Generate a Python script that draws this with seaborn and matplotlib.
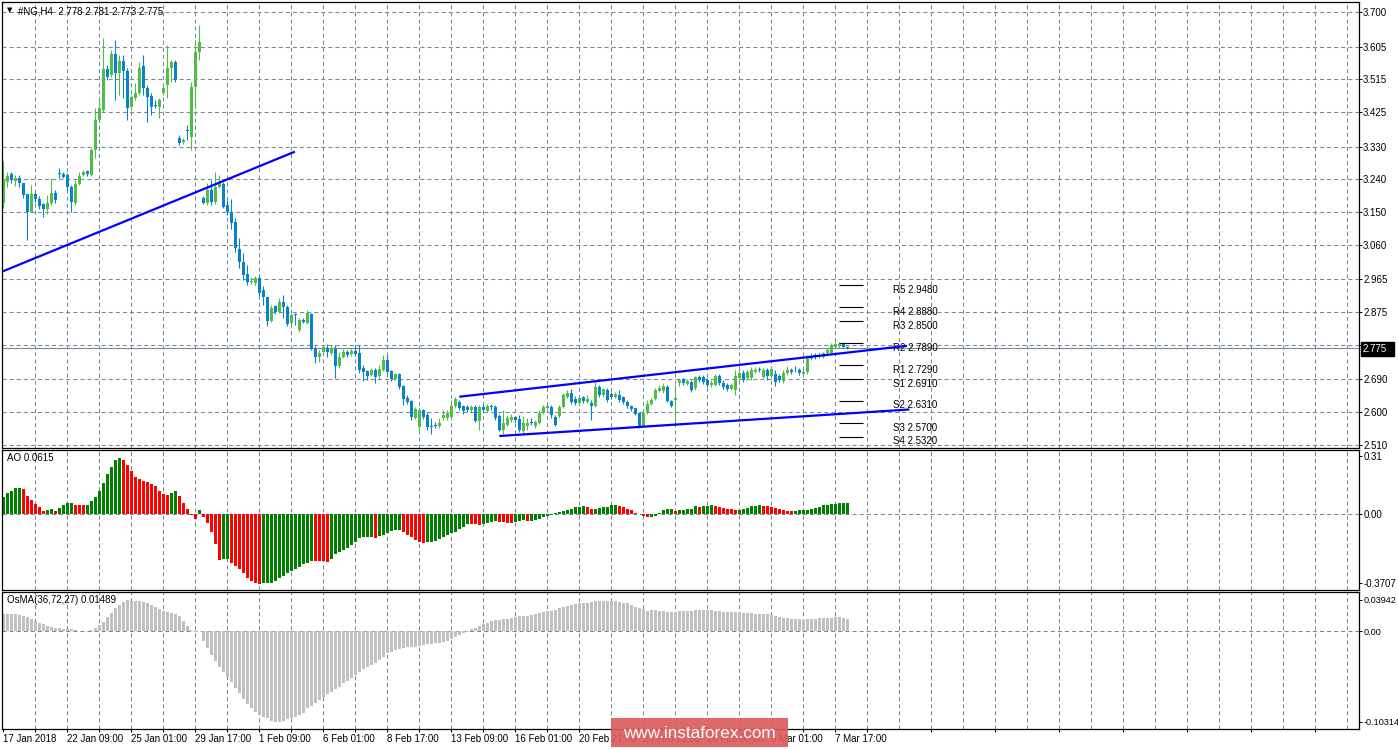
import numpy as np
import pandas as pd
import matplotlib
matplotlib.use("Agg")
import matplotlib.pyplot as plt
import seaborn as sns
from matplotlib.patches import Rectangle

sns.set_style("white")
plt.rcParams['font.family'] = ['Liberation Sans', 'DejaVu Sans']
plt.rcParams['lines.scale_dashes'] = False
plt.rcParams['text.color'] = 'black'
plt.rcParams['xtick.color'] = 'black'
plt.rcParams['ytick.color'] = 'black'

# --- #NG H4 candles ---
opens = [
    3.175, 3.233, 3.255, 3.235, 3.244, 3.230, 3.200, 3.150, 3.200, 3.186,
    3.172, 3.158, 3.175, 3.202, 3.256, 3.255, 3.252, 3.219, 3.175, 3.227,
    3.252, 3.263, 3.252, 3.321, 3.403, 3.431, 3.543, 3.527, 3.585, 3.532,
    3.565, 3.538, 3.439, 3.464, 3.477, 3.552, 3.491, 3.469, 3.443, 3.439,
    3.477, 3.499, 3.546, 3.563, 3.354, 3.343, 3.374, 3.356, 3.494, 3.590,
    3.189, 3.175, 3.211, 3.178, 3.219, 3.227, 3.169, 3.150, 3.123, 3.048,
    3.013, 2.980, 2.958, 2.955, 2.969, 2.936, 2.916, 2.850, 2.892, 2.875,
    2.903, 2.889, 2.845, 2.867, 2.826, 2.853, 2.845, 2.870, 2.773, 2.751,
    2.765, 2.776, 2.762, 2.773, 2.727, 2.751, 2.765, 2.760, 2.768, 2.762,
    2.721, 2.713, 2.702, 2.716, 2.699, 2.716, 2.743, 2.713, 2.691, 2.705,
    2.672, 2.639, 2.630, 2.584, 2.559, 2.606, 2.592, 2.562, 2.564, 2.562,
    2.583, 2.583, 2.586, 2.617, 2.628, 2.617, 2.614, 2.606, 2.614, 2.575,
    2.614, 2.603, 2.615, 2.614, 2.589, 2.551, 2.564, 2.578, 2.586, 2.581,
    2.548, 2.562, 2.573, 2.562, 2.570, 2.597, 2.611, 2.614, 2.586, 2.589,
    2.614, 2.641, 2.652, 2.636, 2.625, 2.641, 2.628, 2.625, 2.617, 2.669,
    2.647, 2.661, 2.650, 2.641, 2.647, 2.641, 2.628, 2.617, 2.611, 2.597,
    2.562, 2.597, 2.622, 2.636, 2.658, 2.658, 2.669, 2.630, 2.633, 2.680,
    2.691, 2.677, 2.683, 2.666, 2.696, 2.696, 2.688, 2.674, 2.674, 2.699,
    2.680, 2.674, 2.663, 2.661, 2.694, 2.707, 2.694, 2.694, 2.710, 2.717,
    2.696, 2.716, 2.699, 2.705, 2.699, 2.685, 2.707, 2.716, 2.719, 2.716,
    2.705, 2.710, 2.746, 2.755, 2.751, 2.751, 2.762, 2.762, 2.779, 2.781,
    2.790, 2.778]
closes = [
    3.238, 3.249, 3.238, 3.244, 3.230, 3.197, 3.150, 3.200, 3.186, 3.167,
    3.158, 3.175, 3.202, 3.183, 3.254, 3.246, 3.219, 3.178, 3.227, 3.249,
    3.260, 3.255, 3.321, 3.403, 3.436, 3.543, 3.521, 3.585, 3.532, 3.565,
    3.538, 3.436, 3.466, 3.477, 3.546, 3.491, 3.466, 3.439, 3.441, 3.458,
    3.491, 3.546, 3.563, 3.513, 3.340, 3.348, 3.372, 3.494, 3.590, 3.618,
    3.175, 3.211, 3.178, 3.219, 3.230, 3.164, 3.150, 3.120, 3.051, 3.013,
    2.977, 2.958, 2.960, 2.969, 2.927, 2.916, 2.850, 2.886, 2.875, 2.903,
    2.889, 2.842, 2.867, 2.866, 2.853, 2.848, 2.872, 2.773, 2.751, 2.762,
    2.779, 2.765, 2.773, 2.727, 2.751, 2.765, 2.757, 2.768, 2.760, 2.716,
    2.710, 2.699, 2.716, 2.696, 2.718, 2.743, 2.710, 2.691, 2.705, 2.669,
    2.636, 2.628, 2.586, 2.608, 2.606, 2.586, 2.559, 2.560, 2.562, 2.570,
    2.592, 2.597, 2.617, 2.636, 2.611, 2.603, 2.606, 2.614, 2.575, 2.614,
    2.606, 2.617, 2.613, 2.583, 2.551, 2.570, 2.583, 2.586, 2.578, 2.551,
    2.570, 2.570, 2.570, 2.573, 2.597, 2.614, 2.617, 2.592, 2.564, 2.614,
    2.647, 2.652, 2.628, 2.625, 2.639, 2.630, 2.636, 2.617, 2.669, 2.647,
    2.663, 2.633, 2.641, 2.650, 2.633, 2.628, 2.617, 2.608, 2.595, 2.562,
    2.597, 2.622, 2.633, 2.661, 2.666, 2.672, 2.630, 2.617, 2.639, 2.688,
    2.680, 2.685, 2.661, 2.696, 2.688, 2.683, 2.674, 2.680, 2.699, 2.680,
    2.669, 2.663, 2.674, 2.699, 2.707, 2.688, 2.710, 2.716, 2.716, 2.715,
    2.716, 2.699, 2.718, 2.683, 2.688, 2.707, 2.716, 2.710, 2.717, 2.707,
    2.710, 2.749, 2.754, 2.753, 2.757, 2.762, 2.771, 2.784, 2.787, 2.787,
    2.779, 2.775]
highs = [
    3.290, 3.260, 3.260, 3.252, 3.252, 3.230, 3.200, 3.224, 3.205, 3.194,
    3.175, 3.197, 3.244, 3.211, 3.271, 3.260, 3.257, 3.224, 3.238, 3.260,
    3.266, 3.266, 3.326, 3.436, 3.461, 3.629, 3.554, 3.596, 3.623, 3.582,
    3.582, 3.546, 3.472, 3.505, 3.563, 3.582, 3.499, 3.477, 3.458, 3.464,
    3.499, 3.609, 3.568, 3.568, 3.362, 3.354, 3.389, 3.508, 3.623, 3.664,
    3.194, 3.230, 3.238, 3.260, 3.252, 3.233, 3.183, 3.186, 3.134, 3.079,
    3.037, 3.004, 2.971, 2.974, 2.974, 2.947, 2.919, 2.894, 2.894, 2.914,
    2.922, 2.894, 2.872, 2.872, 2.859, 2.859, 2.881, 2.872, 2.782, 2.771,
    2.784, 2.787, 2.784, 2.784, 2.765, 2.773, 2.771, 2.776, 2.784, 2.784,
    2.729, 2.716, 2.721, 2.721, 2.729, 2.757, 2.757, 2.716, 2.707, 2.707,
    2.674, 2.647, 2.633, 2.614, 2.614, 2.608, 2.600, 2.583, 2.573, 2.583,
    2.606, 2.606, 2.633, 2.641, 2.633, 2.619, 2.619, 2.619, 2.619, 2.619,
    2.619, 2.622, 2.622, 2.619, 2.595, 2.606, 2.592, 2.595, 2.589, 2.592,
    2.589, 2.583, 2.583, 2.578, 2.606, 2.619, 2.619, 2.619, 2.592, 2.619,
    2.652, 2.661, 2.663, 2.644, 2.644, 2.644, 2.647, 2.633, 2.683, 2.674,
    2.666, 2.666, 2.655, 2.655, 2.661, 2.644, 2.633, 2.619, 2.611, 2.600,
    2.606, 2.633, 2.639, 2.666, 2.674, 2.680, 2.674, 2.633, 2.674, 2.694,
    2.694, 2.691, 2.688, 2.699, 2.702, 2.702, 2.694, 2.688, 2.705, 2.705,
    2.688, 2.680, 2.680, 2.716, 2.716, 2.716, 2.716, 2.724, 2.724, 2.724,
    2.721, 2.721, 2.727, 2.716, 2.705, 2.716, 2.727, 2.721, 2.727, 2.721,
    2.718, 2.757, 2.762, 2.762, 2.765, 2.765, 2.776, 2.790, 2.792, 2.792,
    2.792, 2.781]
lows = [
    3.161, 3.219, 3.230, 3.222, 3.219, 3.189, 3.073, 3.150, 3.178, 3.158,
    3.136, 3.145, 3.169, 3.175, 3.244, 3.244, 3.211, 3.150, 3.169, 3.224,
    3.249, 3.249, 3.249, 3.299, 3.398, 3.425, 3.513, 3.521, 3.458, 3.472,
    3.464, 3.403, 3.431, 3.458, 3.472, 3.472, 3.398, 3.417, 3.436, 3.409,
    3.472, 3.464, 3.508, 3.508, 3.334, 3.337, 3.348, 3.321, 3.436, 3.568,
    3.172, 3.169, 3.169, 3.172, 3.216, 3.161, 3.142, 3.103, 3.040, 2.996,
    2.963, 2.949, 2.952, 2.949, 2.919, 2.894, 2.837, 2.848, 2.870, 2.872,
    2.859, 2.837, 2.839, 2.839, 2.820, 2.845, 2.842, 2.771, 2.735, 2.738,
    2.762, 2.751, 2.757, 2.694, 2.721, 2.749, 2.751, 2.754, 2.754, 2.707,
    2.685, 2.688, 2.699, 2.680, 2.694, 2.713, 2.705, 2.685, 2.688, 2.663,
    2.619, 2.622, 2.578, 2.581, 2.545, 2.581, 2.551, 2.540, 2.556, 2.556,
    2.578, 2.578, 2.583, 2.611, 2.606, 2.595, 2.600, 2.600, 2.573, 2.551,
    2.600, 2.600, 2.606, 2.578, 2.548, 2.540, 2.562, 2.573, 2.573, 2.545,
    2.542, 2.551, 2.564, 2.556, 2.567, 2.595, 2.608, 2.583, 2.562, 2.583,
    2.611, 2.639, 2.622, 2.619, 2.619, 2.625, 2.625, 2.578, 2.614, 2.641,
    2.641, 2.628, 2.636, 2.639, 2.628, 2.622, 2.611, 2.603, 2.592, 2.556,
    2.559, 2.595, 2.619, 2.633, 2.655, 2.652, 2.628, 2.614, 2.567, 2.672,
    2.674, 2.674, 2.655, 2.661, 2.683, 2.677, 2.669, 2.669, 2.672, 2.674,
    2.663, 2.658, 2.661, 2.647, 2.688, 2.683, 2.688, 2.688, 2.707, 2.710,
    2.694, 2.688, 2.694, 2.672, 2.683, 2.680, 2.702, 2.705, 2.710, 2.702,
    2.702, 2.705, 2.743, 2.746, 2.749, 2.749, 2.760, 2.760, 2.776, 2.776,
    2.776, 2.773]

# --- Awesome Oscillator ---
ao_vals = [
    0.093, 0.111, 0.125, 0.138, 0.140, 0.132, 0.098, 0.075, 0.054, 0.036,
    0.018, 0.021, 0.027, 0.018, 0.030, 0.048, 0.057, 0.061, 0.048, 0.047,
    0.046, 0.050, 0.072, 0.093, 0.125, 0.165, 0.213, 0.254, 0.290, 0.301,
    0.290, 0.263, 0.233, 0.200, 0.186, 0.179, 0.170, 0.159, 0.150, 0.125,
    0.106, 0.104, 0.115, 0.124, 0.098, 0.061, 0.027, -0.005, -0.027, 0.021,
    -0.014, -0.050, -0.095, -0.163, -0.247, -0.243, -0.242, -0.265, -0.277, -0.295,
    -0.319, -0.342, -0.360, -0.372, -0.374, -0.372, -0.371, -0.369, -0.360, -0.345,
    -0.333, -0.319, -0.306, -0.295, -0.283, -0.270, -0.265, -0.252, -0.253, -0.254,
    -0.255, -0.256, -0.243, -0.215, -0.202, -0.193, -0.181, -0.166, -0.149, -0.131,
    -0.125, -0.124, -0.122, -0.127, -0.118, -0.113, -0.100, -0.093, -0.086, -0.084,
    -0.095, -0.113, -0.125, -0.140, -0.149, -0.154, -0.152, -0.149, -0.143, -0.136,
    -0.125, -0.113, -0.104, -0.095, -0.081, -0.068, -0.054, -0.055, -0.056, -0.059,
    -0.054, -0.050, -0.043, -0.038, -0.043, -0.044, -0.047, -0.048, -0.043, -0.038,
    -0.032, -0.038, -0.036, -0.034, -0.029, -0.018, -0.011, -0.004, 0.004, 0.011,
    0.016, 0.021, 0.029, 0.038, 0.039, 0.041, 0.038, 0.027, 0.029, 0.032,
    0.036, 0.039, 0.047, 0.050, 0.043, 0.036, 0.029, 0.020, 0.007, 0.001,
    -0.011, -0.018, -0.016, -0.011, 0.004, 0.021, 0.027, 0.029, 0.018, 0.021,
    0.023, 0.025, 0.027, 0.043, 0.038, 0.043, 0.045, 0.047, 0.043, 0.036,
    0.032, 0.027, 0.025, 0.021, 0.023, 0.027, 0.032, 0.043, 0.045, 0.047,
    0.043, 0.041, 0.038, 0.032, 0.027, 0.021, 0.016, 0.014, 0.016, 0.020,
    0.021, 0.023, 0.027, 0.032, 0.038, 0.047, 0.048, 0.052, 0.055, 0.058,
    0.060, 0.0615]

# --- OsMA(36,72,27) ---
osma_vals = [
    0.0203, 0.0203, 0.0203, 0.0203, 0.0191, 0.0179, 0.0164, 0.0140, 0.0125, 0.0101,
    0.0082, 0.0062, 0.0055, 0.0043, 0.0035, 0.0027, 0.0027, 0.0023, 0.0016, 0.0008,
    0.0004, 0.0008, 0.0016, 0.0035, 0.0074, 0.0113, 0.0164, 0.0218, 0.0269, 0.0308,
    0.0347, 0.0367, 0.0359, 0.0359, 0.0359, 0.0347, 0.0335, 0.0308, 0.0281, 0.0257,
    0.0242, 0.0230, 0.0218, 0.0203, 0.0179, 0.0125, 0.0062, 0.0016, -0.0008, 0.0008,
    -0.0109, -0.0199, -0.0277, -0.0343, -0.0413, -0.0472, -0.0530, -0.0589, -0.0667, -0.0725,
    -0.0796, -0.0850, -0.0901, -0.0940, -0.0979, -0.0998, -0.1018, -0.1049, -0.1057, -0.1057,
    -0.1049, -0.1030, -0.1018, -0.0998, -0.0979, -0.0952, -0.0901, -0.0874, -0.0842, -0.0803,
    -0.0772, -0.0737, -0.0706, -0.0675, -0.0647, -0.0608, -0.0577, -0.0546, -0.0511, -0.0472,
    -0.0445, -0.0413, -0.0394, -0.0367, -0.0335, -0.0296, -0.0257, -0.0238, -0.0218, -0.0203,
    -0.0191, -0.0187, -0.0187, -0.0179, -0.0172, -0.0160, -0.0152, -0.0148, -0.0140, -0.0133,
    -0.0121, -0.0109, -0.0094, -0.0062, -0.0043, -0.0023, -0.0008, 0.0023, 0.0035, 0.0062,
    0.0082, 0.0101, 0.0121, 0.0133, 0.0133, 0.0140, 0.0144, 0.0152, 0.0172, 0.0179,
    0.0179, 0.0179, 0.0191, 0.0199, 0.0211, 0.0230, 0.0238, 0.0238, 0.0250, 0.0269,
    0.0289, 0.0296, 0.0308, 0.0316, 0.0328, 0.0335, 0.0335, 0.0347, 0.0355, 0.0355,
    0.0355, 0.0355, 0.0355, 0.0355, 0.0347, 0.0335, 0.0328, 0.0308, 0.0289, 0.0269,
    0.0257, 0.0242, 0.0250, 0.0250, 0.0242, 0.0238, 0.0230, 0.0222, 0.0230, 0.0238,
    0.0238, 0.0238, 0.0238, 0.0250, 0.0250, 0.0250, 0.0250, 0.0250, 0.0242, 0.0242,
    0.0230, 0.0222, 0.0222, 0.0222, 0.0222, 0.0218, 0.0218, 0.0211, 0.0203, 0.0203,
    0.0199, 0.0199, 0.0191, 0.0179, 0.0164, 0.0160, 0.0152, 0.0144, 0.0144, 0.0140,
    0.0133, 0.0140, 0.0144, 0.0144, 0.0152, 0.0152, 0.0152, 0.0160, 0.0164, 0.0164,
    0.0160, 0.01489]

# axis labels / levels
price_ticks = [3.700, 3.605, 3.515, 3.425, 3.330, 3.240, 3.150, 3.060, 2.965, 2.875,
               2.785, 2.690, 2.600, 2.510]
time_ticks = [0, 16, 32, 48, 64, 80, 96, 112, 128, 144, 160, 176, 192, 208]
time_labels = ['17 Jan 2018', '22 Jan 09:00', '25 Jan 01:00', '29 Jan 17:00', '1 Feb 09:00',
               '6 Feb 01:00', '8 Feb 17:00', '13 Feb 09:00', '16 Feb 01:00', '20 Feb 21:00',
               '23 Feb 13:00', '28 Feb 05:00', '5 Mar 01:00', '7 Mar 17:00']
pivot_names = ['R5', 'R4', 'R3', 'R2', 'R1', 'S1', 'S2', 'S3', 'S4']
pivot_vals = [2.948, 2.888, 2.850, 2.789, 2.729, 2.691, 2.631, 2.570, 2.532]
# trend lines: (bar, price) anchors
trend_bars = [[-0.075, 72.9], [114.0, 225.9], [124.0, 226.5]]
trend_prices = [[2.987, 3.316], [2.642, 2.782], [2.534, 2.607]]
ao_ticks, ao_ticklabels = [0.31, 0.0, -0.3707], ['0.31', '0.00', '-0.3707']
os_ticks, os_ticklabels = [0.0367, 0.0, -0.1057], ['0.03942', '0.00', '-0.10314']

n = len(closes)
df = pd.DataFrame({'bar': np.arange(n), 'open': opens, 'high': highs,
                   'low': lows, 'close': closes, 'ao': ao_vals, 'osma': osma_vals})
df['ao_dir'] = np.where(df['ao'].diff().fillna(1) > 0, 'up', 'down')

UP, DOWN = '#4fbd46', '#0784c9'
GRID = '#778899'
DASH = (0, (2.9, 2.2))

W, H = 1398, 749
fig = plt.figure(figsize=(W / 100, H / 100), dpi=100)


def box(top, bottom, left=2, right=1359):
    return [left / W, 1 - bottom / H, (right - left) / W, (bottom - top) / H]


ax_p = fig.add_axes(box(2, 448))
ax_ao = fig.add_axes(box(450, 590))
ax_os = fig.add_axes(box(592, 729))

# candles
up = df['close'] >= df['open']
for mask, col in [(up, UP), (~up, DOWN)]:
    d = df[mask]
    ax_p.vlines(d['bar'], d['low'], d['high'], color=col, lw=0.8, zorder=2)
    body = (d['close'] - d['open']).abs().clip(lower=0.0025)
    ax_p.bar(d['bar'], body, bottom=np.minimum(d['open'], d['close']), width=0.74,
             color=col, lw=0, zorder=2)

# price line, trend lines, pivots
ax_p.axhline(closes[-1], color='#7a8794', lw=0.8, zorder=1.5)
for tb, tp in zip(trend_bars, trend_prices):
    ax_p.plot(tb, tp, color='#0000ff', lw=1.6, zorder=4, solid_capstyle='butt')
ax_p.hlines(pivot_vals, 209.0, 214.9, color='black', lw=0.8, zorder=3)
for nm, v in zip(pivot_names, pivot_vals):
    ax_p.text(222.4, v + 0.001, f'{nm} {v:.4f}', va='top', ha='left', fontsize=7, zorder=3)

# oscillators
sns.barplot(data=df, x='bar', y='ao', hue='ao_dir', palette={'up': '#008000', 'down': '#ff0000'},
            native_scale=True, width=0.75, dodge=False, legend=False, errorbar=None,
            saturation=1, linewidth=0, ax=ax_ao)
sns.barplot(data=df, x='bar', y='osma', color='#c0c0c0', native_scale=True, width=0.65,
            errorbar=None, saturation=1, linewidth=0, ax=ax_os)

xlim = (-0.325, 338.9)
for ax in (ax_p, ax_ao, ax_os):
    ax.set_xlim(*xlim)
    ax.set_xlabel('')
    ax.set_ylabel('')
    for k in range(1, 43):
        ax.axvline(8 * k, color=GRID, lw=0.75, ls=DASH, zorder=0.5)
    for s in ax.spines.values():
        s.set_color('black')
        s.set_linewidth(0.9)
    ax.yaxis.tick_right()
    ax.tick_params(axis='y', direction='out', length=2.2, width=0.7, pad=0.8, labelsize=7)
    ax.set_facecolor('white')

ax_p.set_ylim(2.501, 3.7275)
ax_p.set_yticks(price_ticks)
ax_p.set_yticklabels([f'{t:.3f}' if abs(t - 2.785) > 1e-6 else '' for t in price_ticks])
for t in price_ticks:
    ax_p.axhline(t, color=GRID, lw=0.75, ls=DASH, zorder=0.5)

ax_ao.set_ylim(-0.4081, 0.3437)
ax_ao.set_yticks(ao_ticks)
ax_ao.set_yticklabels(ao_ticklabels)
ax_ao.axhline(0, color=GRID, lw=0.75, ls=DASH, zorder=0.5)

ax_os.set_ylim(-0.1143, 0.0460)
ax_os.set_yticks(os_ticks)
ax_os.set_yticklabels(os_ticklabels)
ax_os.tick_params(axis='y', labelsize=6.6)
ax_os.axhline(0, color=GRID, lw=0.75, ls=DASH, zorder=0.5)

for ax in (ax_p, ax_ao):
    ax.set_xticks([])
ax_os.set_xticks(time_ticks)
ax_os.set_xticklabels(time_labels, ha='left')
ax_os.set_xticks([8 * k for k in range(1, 43) if k % 2 == 1], minor=True)
ax_os.tick_params(axis='x', which='both', direction='out', length=2.5, width=0.7,
                  pad=1, labelsize=7, bottom=True)

# header texts
fig.text(7 / W, 1 - 10 / H, '\u25bc', fontsize=5, va='center', ha='left',
         family=['DejaVu Sans'])
fig.text(18 / W, 1 - 11 / H,
         f'#NG,H4  {opens[-1]:.3f} {highs[-1]:.3f} {lows[-1]:.3f} {closes[-1]:.3f}',
         fontsize=7, va='center', ha='left')
fig.text(7 / W, 1 - 458 / H, f'AO {ao_vals[-1]:.4f}', fontsize=7, va='center', ha='left')
fig.text(7 / W, 1 - 600 / H, f'OsMA(36,72,27) {osma_vals[-1]:.5f}', fontsize=7,
         va='center', ha='left')

# current price tag
fig.patches.append(Rectangle((1361 / W, 1 - 356 / H), 33 / W, 14 / H,
                             transform=fig.transFigure, color='black', zorder=5))
fig.text(1363 / W, 1 - 349 / H, f'{closes[-1]:.3f}', color='white', fontsize=7,
         va='center', ha='left', zorder=6)

# watermark
fig.patches.append(Rectangle((611 / W, 1 - 747 / H), 177 / W, 29 / H,
                             transform=fig.transFigure, facecolor='#dc5c5c', alpha=0.92,
                             edgecolor='none', zorder=7))
fig.text(699 / W, 1 - 733 / H, 'www.instaforex.com', color='white', fontsize=12.3,
         va='center', ha='center', zorder=8)

fig.savefig('out.png', dpi=100)
